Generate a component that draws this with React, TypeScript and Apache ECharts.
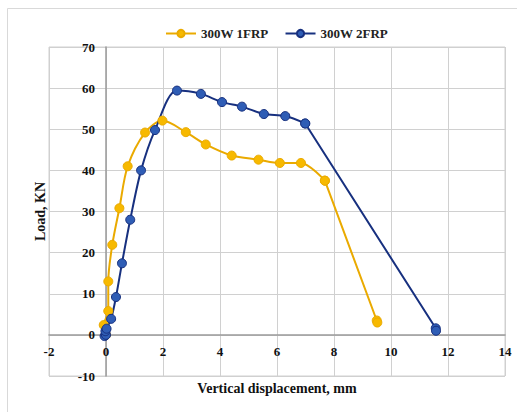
import React, { useEffect, useRef } from "react";
import * as echarts from "echarts";

const seriesNames = ["300W 1FRP", "300W 2FRP"];

const frp1X = [0, -0.08, 0.08, 0.08, 0.22, 0.47, 0.76, 1.37, 1.98, 2.8, 3.5, 4.41, 5.35, 6.1, 6.84, 7.68, 9.5, 9.52];
const frp1Y = [0, 2.4, 5.8, 13.0, 21.9, 30.8, 41.0, 49.2, 52.1, 49.3, 46.3, 43.6, 42.6, 41.8, 41.8, 37.5, 3.5, 3.0];
// index where the curve becomes a straight segment
const frp1Break = 15;

const frp2X = [-0.05, 0, -0.02, 0.02, 0.18, 0.35, 0.56, 0.85, 1.23, 1.72, 2.49, 3.33, 4.07, 4.77, 5.54, 6.29, 6.99, 11.57, 11.58];
const frp2Y = [-0.3, 0, 0.9, 1.5, 3.9, 9.2, 17.4, 28.0, 40.0, 49.8, 59.4, 58.6, 56.6, 55.5, 53.7, 53.2, 51.4, 1.6, 1.0];
const frp2Break = 16;

const xTitle = "Vertical displacement, mm";
const yTitle = "Load, KN";

const FONT = "'Liberation Serif', 'Times New Roman', serif";

const ORANGE_LINE = "#EAAA00";
const ORANGE_FILL = "#F7B900";
const BLUE_LINE = "#17307F";
const BLUE_FILL = "#2F5DB5";

export default function App() {
  const ref = useRef<HTMLDivElement>(null);
  useEffect(() => {
    if (!ref.current) return;
    const chart = echarts.init(ref.current, undefined, { renderer: "svg" });
    const pairs = (xs: number[], ys: number[]) => xs.map((x, i) => [x, ys[i]]);
    const p1 = pairs(frp1X, frp1Y);
    const p2 = pairs(frp2X, frp2Y);
    const mk = (name: string, data: number[][], smooth: number | boolean, line: string, fill: string) => ({
      name,
      type: "line",
      data,
      smooth,
      symbol: "circle",
      symbolSize: 9,
      showAllSymbol: true,
      lineStyle: { color: line, width: 2 },
      itemStyle: { color: fill, borderColor: line, borderWidth: 1 },
    });
    chart.setOption({
      animation: false,
      backgroundColor: "#ffffff",
      textStyle: { fontFamily: FONT },
      graphic: [
        {
          type: "rect",
          shape: { x: 7.5, y: 8.5, width: 530, height: 430 },
          style: { fill: "none", stroke: "#d9d9d9", lineWidth: 1 },
          silent: true,
        },
      ],
      legend: {
        top: 22,
        left: 160,
        itemWidth: 30,
        itemHeight: 9,
        itemGap: 16,
        textStyle: { fontFamily: FONT, fontWeight: "bold", fontSize: 13, color: "#222" },
        data: seriesNames,
      },
      grid: {
        left: 49,
        right: 12,
        top: 47,
        bottom: 36,
        show: true,
        borderColor: "#d0d0d0",
        borderWidth: 1,
        outerBoundsMode: "none",
        containLabel: false,
      },
      xAxis: {
        type: "value",
        min: -2,
        max: 14,
        interval: 2,
        name: xTitle,
        nameLocation: "middle",
        nameGap: 5,
        nameMoveOverlap: false,
        nameTextStyle: { fontFamily: FONT, fontWeight: "bold", fontSize: 14, color: "#111" },
        axisLine: { onZero: true, onZeroAxisIndex: 0, lineStyle: { color: "#9a9a9a", width: 1.5 } },
        axisTick: { show: false },
        axisLabel: { fontFamily: FONT, fontWeight: "bold", fontSize: 13, color: "#111", margin: -31 },
        splitLine: { show: true, lineStyle: { color: "#d0d0d0", width: 1 } },
      },
      yAxis: {
        type: "value",
        min: -10,
        max: 70,
        interval: 10,
        name: yTitle,
        nameLocation: "middle",
        nameRotate: 90,
        nameGap: 2,
        nameMoveOverlap: false,
        nameTextStyle: { fontFamily: FONT, fontWeight: "bold", fontSize: 14, color: "#111" },
        axisLine: { onZero: true, onZeroAxisIndex: 0, lineStyle: { color: "#9a9a9a", width: 1.5 } },
        axisTick: { show: false },
        axisLabel: { fontFamily: FONT, fontWeight: "bold", fontSize: 13, color: "#111", margin: -46 },
        splitLine: { show: true, lineStyle: { color: "#d0d0d0", width: 1 } },
      },
      series: [
        mk(seriesNames[0], p1.slice(frp1Break), false, ORANGE_LINE, ORANGE_FILL),
        mk(seriesNames[1], p2.slice(frp2Break), false, BLUE_LINE, BLUE_FILL),
        mk(seriesNames[0], p1.slice(0, frp1Break + 1), 0.3, ORANGE_LINE, ORANGE_FILL),
        mk(seriesNames[1], p2.slice(0, frp2Break + 1), 0.3, BLUE_LINE, BLUE_FILL),
      ],
    });
    return () => chart.dispose();
  }, []);
  return (
    <div
      ref={ref}
      style={{ position: "fixed", left: 0, top: 0, width: 517, height: 412 }}
    />
  );
}
